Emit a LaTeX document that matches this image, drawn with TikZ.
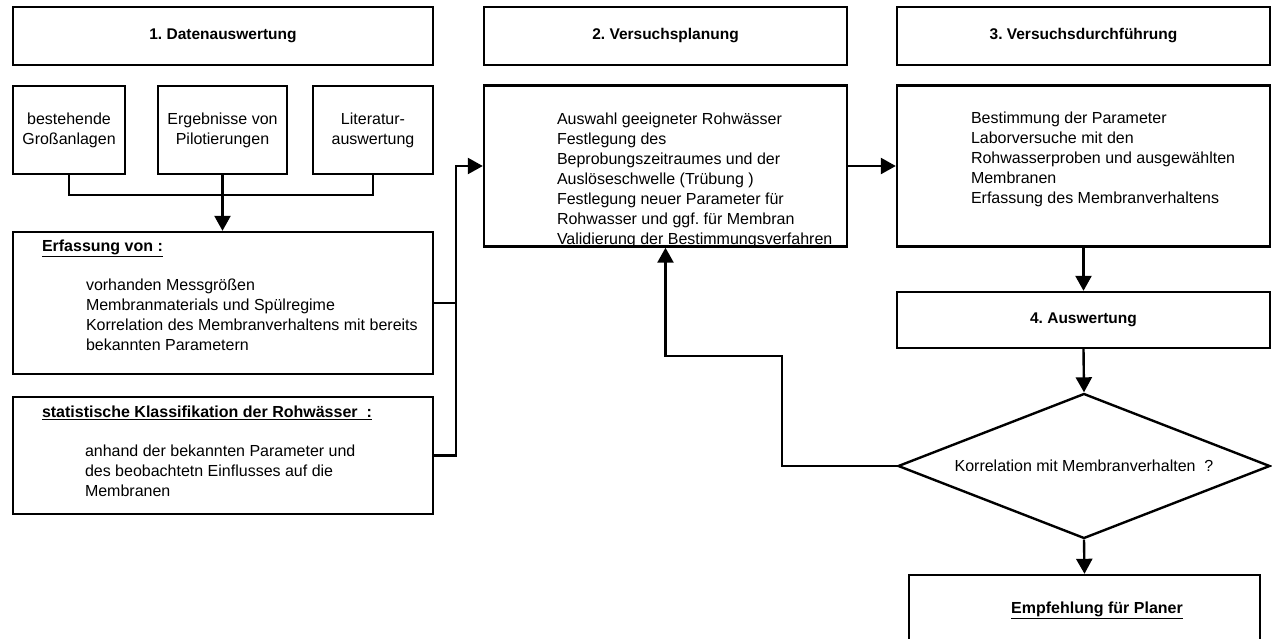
\documentclass[tikz,border=0pt]{standalone}
\usepackage{fontspec}
\setmainfont{Liberation Sans}
\usetikzlibrary{arrows.meta,positioning,calc,shapes.geometric}

\begin{document}
\begin{tikzpicture}[
  x=1pt, y=-1pt,
  >={Triangle[length=15pt,width=16pt]},
  hbox/.style={draw, rectangle, line width=2.4pt, minimum height=58pt,
               inner sep=0pt, font=\fontsize{15.5}{20}\selectfont\bfseries\frenchspacing},
  sbox/.style={draw, rectangle, line width=2.4pt, minimum height=88pt,
               inner sep=0pt, align=center, font=\fontsize{16}{20}\selectfont},
  tbox/.style={draw, rectangle, line width=2.4pt, minimum width=420pt,
               inner sep=0pt},
  ttl/.style={anchor=north west, inner sep=0pt,
              font=\fontsize{16}{20}\selectfont\bfseries},
  body/.style={anchor=north west, inner sep=0pt, align=left,
               font=\fontsize{16}{20}\selectfont\frenchspacing},
  dbox/.style={draw, diamond, aspect=2.566, line width=2.4pt, inner sep=0pt,
               minimum width=372pt, minimum height=145pt,
               font=\fontsize{16}{20}\selectfont},
  dline/.style={line width=2.4pt},
  darr/.style={->, line width=2.4pt},
]
\useasboundingbox (0,0) rectangle (1272,638);
\clip (0,0) rectangle (1272,638);

%%---- Phase headers -------------------------------------------------
\node[hbox, minimum width=420pt] (H1) at (223,36) {1. Datenauswertung};
\node[hbox, minimum width=363pt] (H2) at (665.5,36) {2. Versuchsplanung};
\node[hbox, minimum width=373pt] (H3) at (1083.5,36) {3. Versuchsdurchführung};

%%---- 1. Datenauswertung --------------------------------------------
\node[sbox, minimum width=112pt] (Gross) at (69,130) {bestehende\\Großanlagen};
\node[sbox, minimum width=129pt] (Pilot) at (222.5,130) {Ergebnisse von\\Pilotierungen};
\node[sbox, minimum width=120pt] (Lit) at (373,130) {Literatur-\\auswertung};

\node[tbox, minimum height=142pt] (Erf) at (223,303) {};
\node[ttl] (ErfT) at ($(Erf.north west)+(30,9.3)$) {\underline{Erfassung von :}};
\node[body] (ErfB) at ($(Erf.north west)+(74,48.3)$)
  {vorhanden Messgrößen\\Membranmaterials und Spülregime\\
   Korrelation des Membranverhaltens mit bereits\\bekannten Parametern};

\node[tbox, minimum height=117pt] (Stat) at (223,455.5) {};
\node[ttl] (StatT) at ($(Stat.north west)+(30,10.3)$)
  {\underline{statistische Klassifikation der Rohwässer~~:}};
\node[body] (StatB) at ($(Stat.north west)+(73,49.3)$)
  {anhand der bekannten Parameter und\\des beobachtetn Einflusses auf die\\Membranen};

% collecting lines
\coordinate (bus) at (223,195);
\draw[dline] (Gross.south) |- (bus) -| (Lit.south);
\draw[darr] (Pilot.south) -- (Pilot.south |- Erf.north);

%%---- 2. Versuchsplanung --------------------------------------------
\node[tbox, minimum width=363pt, minimum height=161pt] (Plan) at (665.5,166) {};
\node[body] (PlanB) at ($(Plan.north west)+(74,28.8)$)
  {Auswahl geeigneter Rohwässer\\Festlegung des\\Beprobungszeitraumes und der\\
   Auslöseschwelle (Trübung )\\Festlegung neuer Parameter für\\
   Rohwasser und ggf. für Membran\\Validierung der Bestimmungsverfahren};

\coordinate[left=27pt of Plan.west] (join);
\draw[dline] (Erf.east) -- (Erf.east -| join);
\draw[darr] (Stat.east) -| (join) -- (Plan.west);

%%---- 3. Versuchsdurchführung ---------------------------------------
\node[tbox, minimum width=373pt, minimum height=161pt] (Durch) at (1083.5,166) {};
\node[body] (DurchB) at ($(Durch.north west)+(75,27.8)$)
  {Bestimmung der Parameter\\Laborversuche mit den\\Rohwasserproben und ausgewählten\\
   Membranen\\Erfassung des Membranverhaltens};

\draw[darr] (Plan.east) -- (Durch.west);

%%---- 4. Auswertung and decision ------------------------------------
\node[hbox, minimum width=373pt, minimum height=56pt] (Ausw) at (1083.5,320) {4. Auswertung};
\node[dbox] (Korr) at (1084,466) {Korrelation mit Membranverhalten~~?};
\node[tbox, minimum width=351pt, minimum height=90pt] (Empf) at (1084.5,620) {};
\node[ttl, anchor=center] (EmpfT) at (1097,610) {\underline{Empfehlung für Planer}};

\draw[darr] (Durch.south) -- (Ausw.north);
\draw[darr] (Ausw.south) -- (Korr.north);
\draw[darr] (Korr.south) -- (Empf.north);

% feedback to planning
\coordinate (fb) at (782,356);
\draw[darr] (Korr.west) -| (fb) -| (Plan.south);

\end{tikzpicture}
\end{document}
